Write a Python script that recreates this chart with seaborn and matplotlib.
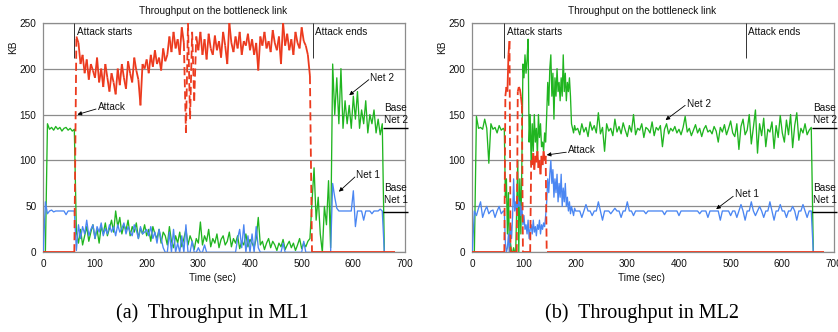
import numpy as np
import pandas as pd
import matplotlib
matplotlib.use("Agg")
import matplotlib.pyplot as plt
from matplotlib.collections import LineCollection
import seaborn as sns

RED = "#EC3A1E"
GREEN = "#20B520"
BLUE = "#4A86F2"
GRID = "#8C8C8C"
TEXT = "#111111"

# each series is a list of pieces: (first second, step in seconds, KB values)
ML1_ATTACK = [
    (0, 4, [0] * 16),
    (64, 4, [235, 228, 205, 215, 195, 210, 188, 205, 198, 190,
             212, 185, 200, 180, 205, 190, 175, 195, 185, 172,
             200, 182, 205, 190, 178, 208, 195, 185, 212, 198,
             188, 160, 205, 200, 210, 195, 215, 202, 220, 205,
             212, 198, 222, 208, 215, 235, 218, 240, 222, 232,
             215, 245, 228, 130, 250, 145, 240, 165, 235, 220,
             240, 215, 232, 210, 238, 222, 215, 236, 220, 230,
             212, 240, 225, 205, 250, 228, 218, 235, 222, 240,
             215, 230, 225, 238, 220, 232, 215, 228, 198, 235,
             225, 240, 222, 230, 218, 242, 228, 220, 235, 205,
             250, 225, 238, 220, 232, 215, 240, 228, 222, 245,
             230, 225, 215, 192]),
    (520, 4, [0] * 41),
]
ML1_NET2 = [
    (0, 4, [0, 0, 140, 134, 136, 133, 137, 134, 136, 132, 135, 136, 133, 135, 132, 134]),
    (64, 4, [22, 10, 25, 8, 18, 28, 12, 22, 30, 15,
             25, 10, 28, 20, 32, 18, 26, 35, 22, 45,
             28, 38, 20, 30, 24, 35, 18, 28, 22, 32,
             15, 26, 20, 30, 18, 25, 12, 28, 20, 15,
             25, 10, 22, 18, 8, 28, 12, 5, 18, 10,
             22, 6, 15, 25, 8, 18, 12, 3, 15, 10,
             33, 8, 18, 12, 25, 6, 15, 10, 20, 5,
             14, 18, 8, 12, 22, 6, 15, 10, 18, 4,
             12, 8, 20, 6, 14, 10, 5, 15, 38, 8,
             12, 3, 10, 15, 5, 12, 8, 2, 10, 6,
             14, 3, 8, 12, 5, 10, 2, 8, 15, 4,
             10, 6, 12, 15]),
    (520, 4, [55, 92, 35, 60, 20, 0, 50, 30, 78, 5,
              205, 150, 190, 140, 200, 135, 165, 140, 160, 135,
              170, 145, 175, 135, 155, 140, 165, 130, 150, 140,
              155, 130, 145, 128, 140, 0]),
]
ML1_NET1 = [
    (0, 4, [0, 55, 42, 45, 46, 44, 45, 45, 45, 45, 45, 41, 45, 45, 45, 45]),
    (64, 4, [2, 30, 15, 28, 20, 35, 18, 25, 30, 15,
             28, 22, 32, 18, 26, 20, 30, 22, 28, 18,
             30, 22, 26, 32, 20, 28, 22, 18, 30, 24,
             15, 28, 20, 22, 25, 18, 28, 15, 22, 10,
             25, 15, 5, 0, 0, 22, 0, 25, 0, 10,
             0, 18, 0, 30, 0, 0, 12, 0, 0, 5,
             0, 0, 8, 0, 0, 0, 0, 0, 0, 0,
             0, 0, 0, 0, 0, 0, 0, 0, 15, 25,
             5, 30, 0, 18, 0, 20, 0, 28, 5, 0,
             0, 0, 0, 0, 0, 0, 0, 0, 0, 0,
             10, 0, 0, 0, 0, 0, 0, 0, 0, 0,
             12, 0, 0, 0]),
    (520, 4, [0, 0, 0, 0, 0, 0, 0, 0, 0, 0,
              75, 60, 48, 45, 45, 45, 45, 45, 45, 45,
              67, 28, 45, 45, 45, 35, 45, 45, 45, 42,
              45, 45, 45, 47, 45, 0]),
]

ML2_ATTACK = [
    (0, 4, [0] * 16),
    (62, 2, [0, 170, 180, 175, 215, 230] + [0] * 7
     + [175, 180, 178, 170, 160] + [0] * 8
     + [100, 95, 108, 90, 105, 98, 110, 92, 100, 85, 105, 95, 110, 100, 105]
     + [0] * 3),
    (152, 4, [0] * 133),
]
ML2_NET2 = [
    (0, 4, [0, 0, 148, 135, 136, 134, 145, 135, 97, 140, 134, 136, 130, 138, 133, 135]),
    (62, 2, [133, 60, 80, 20, 65, 0, 10, 0, 0, 5,
             0, 0, 50, 100, 0, 80, 20, 100, 205, 190,
             215, 195, 210, 232, 120, 150, 95, 140, 110, 150,
             120, 135, 105, 150, 125, 140, 115, 120, 110, 130,
             120, 150, 185, 160, 200, 215, 170, 195, 145, 190,
             170, 200, 175, 185, 165, 190, 170, 215, 175, 195,
             165, 185, 175, 190, 170, 140, 135, 130, 138, 133]),
    (204, 4, [135, 128, 140, 131, 136, 126, 142, 133, 138, 130, 152, 129, 136,
              110, 140, 132, 135, 127, 145, 131, 137, 129, 141, 133, 126,
              138, 131, 150, 128, 135, 133, 140, 125, 136, 134, 130, 142, 127,
              136, 133, 138, 115, 134, 140, 129, 135, 132, 137, 130, 134,
              128, 136, 148, 131, 135, 127, 133, 139, 130, 135, 126, 134, 138,
              131, 133, 129, 137, 132, 120, 136, 131, 139, 128, 135, 143,
              130, 126, 140, 112, 137, 145, 128, 133, 150, 118, 136, 155, 108,
              140, 127, 146, 115, 134, 131, 142, 113, 138, 125, 149, 130,
              120, 144, 128, 150, 114, 138, 152, 122, 135, 130, 140, 128, 133,
              136, 0]),
]
ML2_NET1 = [
    (0, 4, [0, 45, 40, 48, 55, 38, 45, 50, 42, 45, 46, 38, 45, 50, 42, 45]),
    (62, 2, [45, 10, 0, 5, 20, 0, 30, 15, 40, 80,
             45, 55, 40, 60, 50, 55, 40, 50, 30, 40,
             25, 30, 20, 35, 15, 25, 30, 20, 35, 22,
             28, 18, 30, 25, 35, 20, 30, 25, 32, 28,
             40, 55, 80, 65, 85, 100, 75, 90, 60, 80,
             65, 85, 55, 75, 60, 85, 50, 70, 55, 75,
             50, 60, 45, 55, 42, 50, 45, 40, 48, 45]),
    (204, 4, [45, 45, 38, 45, 52, 45, 45, 40, 45, 45, 55, 45, 35,
              45, 45, 45, 42, 45, 48, 45, 45, 38, 45, 45, 55,
              45, 45, 40, 45, 45, 45, 45, 45, 42, 45, 45, 45, 45,
              45, 45, 45, 45, 41, 45, 45, 45, 45, 45, 45, 40,
              45, 45, 45, 45, 45, 45, 45, 45, 45, 42, 45, 45, 45,
              38, 45, 45, 45, 45, 45, 35, 45, 45, 45, 45, 40,
              45, 45, 38, 45, 52, 45, 35, 45, 45, 55, 45, 40, 45,
              50, 45, 38, 45, 45, 55, 45, 35, 45, 45, 52, 45,
              45, 38, 45, 45, 50, 45, 35, 45, 45, 52, 45, 38, 45,
              45, 0]),
]

BASE_NET2_KB = 135
BASE_NET1_KB = 43.5
ATTACK_WINDOWS = {"ML1": (60, 522), "ML2": (62, 529)}


def to_frame(pieces):
    """Join the pieces of one series into a time / KB table."""
    sec, kb = [], []
    for start, step, values in pieces:
        sec.append(start + step * np.arange(len(values)))
        kb.append(np.asarray(values, dtype=float))
    return pd.DataFrame({"sec": np.concatenate(sec), "kb": np.concatenate(kb)})


def draw_attack(ax, frame):
    # Excel restarts the dash on every segment, so only the big jumps show it
    pts = frame[["sec", "kb"]].to_numpy()
    segs = np.stack([pts[:-1], pts[1:]], axis=1)
    jump = np.abs(segs[:, 1, 1] - segs[:, 0, 1]) > 60
    styles = [(0, (4.5, 2.2)) if j else "solid" for j in jump]
    lc = LineCollection(segs, colors=RED, linewidths=1.3,
                        linestyles=styles, zorder=4)
    ax.add_collection(lc)


def draw_panel(ax, net2, net1, attack, window, notes):
    sns.lineplot(data=to_frame(net2), x="sec", y="kb", color=GREEN, lw=0.95,
                 estimator=None, errorbar=None, ax=ax, zorder=2)
    sns.lineplot(data=to_frame(net1), x="sec", y="kb", color=BLUE, lw=0.95,
                 estimator=None, errorbar=None, ax=ax, zorder=3)
    draw_attack(ax, to_frame(attack))

    ax.set_xlim(0, 700)
    ax.set_ylim(0, 250)
    ax.set_xticks(range(0, 701, 100))
    ax.set_yticks(range(0, 251, 50))
    ax.set(xlabel="", ylabel="")
    ax.yaxis.grid(True, color=GRID, lw=0.9)
    ax.xaxis.grid(False)
    for spine in ax.spines.values():
        spine.set_color(GRID)
        spine.set_linewidth(0.9)
    ax.tick_params(labelsize=7.2, colors=TEXT, length=3, width=0.7, pad=2,
                   direction="out")
    ax.tick_params(color=GRID)

    start, end = window
    ax.vlines([start, end], 212, 250, color="#333333", lw=0.7, zorder=5)
    ax.text(start + 5, 240, "Attack starts", fontsize=7.2, color=TEXT, va="center")
    ax.text(end + 4, 240, "Attack ends", fontsize=7.2, color=TEXT, va="center")

    for kb, label, y in [(BASE_NET2_KB, "Base\nNet 2", 151), (BASE_NET1_KB, "Base\nNet 1", 63)]:
        ax.hlines(kb, 657, 706, color="black", lw=1.0, clip_on=False, zorder=6)
        ax.text(659, y, label, fontsize=7.2, color=TEXT, va="center",
                linespacing=1.25, clip_on=False)

    for label, text_xy, tip in notes:
        ax.text(text_xy[0], text_xy[1], label, fontsize=7.2, color=TEXT, va="center")
        ax.annotate("", xy=tip, xytext=(text_xy[0] - 3, text_xy[1] - 2),
                    arrowprops=dict(arrowstyle="-|>", color="black", lw=0.6,
                                    mutation_scale=6, shrinkA=0, shrinkB=0),
                    zorder=7)


sns.set_style("white")
plt.rcParams["font.family"] = ["Liberation Sans", "DejaVu Sans"]

fig = plt.figure(figsize=(8.38, 3.32), dpi=100)
ax1 = fig.add_axes([0.0517, 0.240, 0.4316, 0.6916])
ax2 = fig.add_axes([0.5636, 0.240, 0.4316, 0.6916])

draw_panel(ax1, ML1_NET2, ML1_NET1, ML1_ATTACK, ATTACK_WINDOWS["ML1"], [
    ("Attack", (105, 158), (66, 150)),
    ("Net 2", (633, 190), (592, 171)),
    ("Net 1", (606, 84), (572, 66)),
])
draw_panel(ax2, ML2_NET2, ML2_NET1, ML2_ATTACK, ATTACK_WINDOWS["ML2"], [
    ("Net 2", (415, 162), (374, 144)),
    ("Attack", (185, 111), (144, 106)),
    ("Net 1", (508, 63), (472, 47)),
])

for cx, ky, caption in [(0.254, 0.0155, "(a)  Throughput in ML1"),
                        (0.766, 0.527, "(b)  Throughput in ML2")]:
    fig.text(cx, 0.967, "Throughput on the bottleneck link", fontsize=7.2,
             color=TEXT, ha="center", va="center")
    fig.text(cx, 0.163, "Time (sec)", fontsize=7.2, color=TEXT, ha="center", va="center")
    fig.text(ky, 0.858, "KB", fontsize=7.2, color=TEXT, rotation=90,
             ha="center", va="center")
    fig.text(cx, 0.057, caption, fontsize=14.5, color="black", ha="center",
             va="center", family=["Liberation Serif", "DejaVu Serif"])

fig.savefig("out.png", dpi=100, facecolor="white")
